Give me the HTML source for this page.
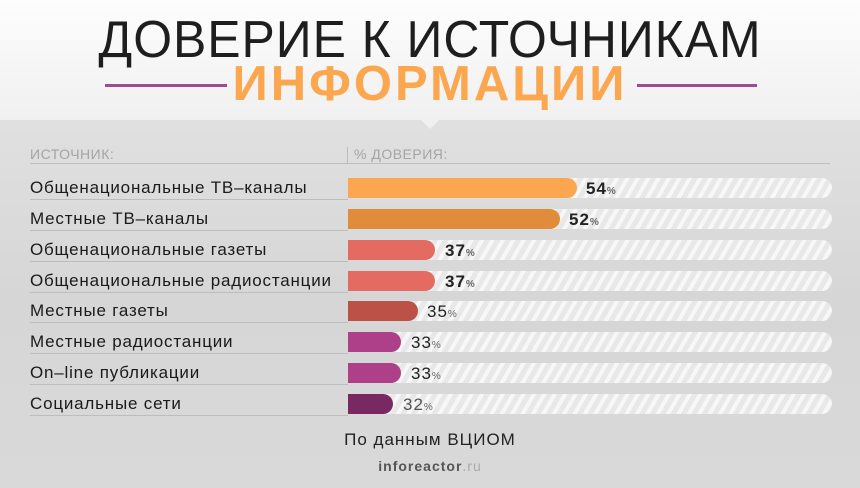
<!DOCTYPE html>
<html><head><meta charset="utf-8"><style>
body{margin:0;width:860px;height:488px;overflow:hidden;font-family:"Liberation Sans","DejaVu Sans",sans-serif;}
#bg{position:absolute;left:0;top:0;width:860px;height:488px;background:linear-gradient(180deg,#e0e0e0 120px,#d6d6d6 300px,#d9d9d9 488px);}
#hdr{position:absolute;left:0;top:0;width:860px;height:120px;background:linear-gradient(180deg,#fdfdfd,#f0f0f0);}
#tri{position:absolute;left:420px;top:119px;width:0;height:0;border-left:10px solid transparent;border-right:10px solid transparent;border-top:10px solid #f0f0f0;}
.t1{position:absolute;left:0;width:860px;text-align:center;top:10px;font-size:52px;color:#1e1e1e;letter-spacing:1px;transform:scaleX(0.96);}
.t2{position:absolute;left:0;width:860px;text-align:center;top:56px;font-size:49px;font-weight:bold;color:#fba74f;letter-spacing:3px;}
.pl{position:absolute;top:84px;height:3px;background:#9b4d8f;}
.hd{position:absolute;top:146px;font-size:14px;color:#a4a4a4;letter-spacing:0.5px;}
.row{position:absolute;left:0;width:860px;height:20px;}
.lab{position:absolute;left:30px;top:0;font-size:17px;color:#1a1a1a;line-height:20px;letter-spacing:0.8px;}
.ul{position:absolute;left:30px;width:318px;top:21px;height:1px;background:#bdbdbd;}
.trk{position:absolute;left:348px;width:484px;top:0;height:20px;border-radius:10px;background:repeating-linear-gradient(-60deg,#e8e8e8 0 5px,#f7f7f7 5px 9px);}
.bar{position:absolute;left:348px;top:0;height:20px;border-radius:0 10px 10px 0;}
.val{position:absolute;top:0;line-height:22px;font-size:17px;color:#222;letter-spacing:1px;}
.val span{font-size:10px;color:#666;}
</style></head><body>
<div id="bg"></div><div id="hdr"></div><div id="tri"></div>
<div class="t1">ДОВЕРИЕ К ИСТОЧНИКАМ</div>
<div class="t2">ИНФОРМАЦИИ</div>
<div class="pl" style="left:105px;width:122px"></div>
<div class="pl" style="left:637px;width:120px"></div>
<div class="hd" style="left:30px">ИСТОЧНИК:</div>
<div style="position:absolute;left:347px;top:147px;width:1px;height:16px;background:#bbb"></div>
<div class="hd" style="left:354px">% ДОВЕРИЯ:</div>
<div style="position:absolute;left:30px;top:163px;width:800px;height:1px;background:#bdbdbd"></div>

<div class="row" style="top:178px"><div class="lab">Общенациональные ТВ–каналы</div><div class="ul"></div><div class="trk"></div><div class="bar" style="width:229px;background:#fca74f"></div><div class="val" style="left:586px;font-weight:bold">54<span>%</span></div></div>
<div class="row" style="top:209px"><div class="lab">Местные ТВ–каналы</div><div class="ul"></div><div class="trk"></div><div class="bar" style="width:212px;background:#e08c3a"></div><div class="val" style="left:569px;font-weight:bold">52<span>%</span></div></div>
<div class="row" style="top:240px"><div class="lab">Общенациональные газеты</div><div class="ul"></div><div class="trk"></div><div class="bar" style="width:87px;background:#e46b61"></div><div class="val" style="left:445px;font-weight:bold">37<span>%</span></div></div>
<div class="row" style="top:271px"><div class="lab">Общенациональные радиостанции</div><div class="ul"></div><div class="trk"></div><div class="bar" style="width:87px;background:#e46b61"></div><div class="val" style="left:445px;font-weight:bold">37<span>%</span></div></div>
<div class="row" style="top:301px"><div class="lab">Местные газеты</div><div class="ul"></div><div class="trk"></div><div class="bar" style="width:70px;background:#bb5147"></div><div class="val" style="left:427px">35<span>%</span></div></div>
<div class="row" style="top:332px"><div class="lab">Местные радиостанции</div><div class="ul"></div><div class="trk"></div><div class="bar" style="width:53px;background:#ad4089"></div><div class="val" style="left:411px">33<span>%</span></div></div>
<div class="row" style="top:363px"><div class="lab">On–line публикации</div><div class="ul"></div><div class="trk"></div><div class="bar" style="width:53px;background:#ad4089"></div><div class="val" style="left:411px">33<span>%</span></div></div>
<div class="row" style="top:394px"><div class="lab">Социальные сети</div><div class="ul"></div><div class="trk"></div><div class="bar" style="width:45px;background:#7a2862"></div><div class="val" style="left:403px;color:#555">32<span>%</span></div></div>

<div style="position:absolute;left:0;width:860px;text-align:center;top:430px;font-size:17px;color:#222;letter-spacing:1px">По данным ВЦИОМ</div>
<div style="position:absolute;left:0;width:860px;text-align:center;top:458px;font-size:14px;font-weight:bold;color:#555;letter-spacing:1px">inforeactor<span style="color:#aaa;font-weight:normal">.ru</span></div>
</body></html>
